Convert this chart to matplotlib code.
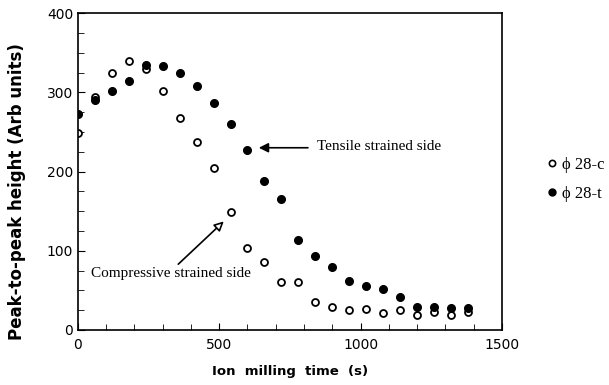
import matplotlib
matplotlib.use("Agg")
import matplotlib.pyplot as plt
from matplotlib.ticker import MultipleLocator
from matplotlib.lines import Line2D

# ion milling time (s)
times = [0, 60, 120, 180, 240, 300, 360, 420, 480, 540, 600, 660,
         720, 780, 840, 900, 960, 1020, 1080, 1140, 1200, 1260, 1320, 1380]
# phi 28-c, compressive strained side (open circles)
comp = [249, 294, 324, 339, 329, 302, 268, 237, 204, 149, 103, 86,
        61, 61, 35, 29, 25, 27, 21, 25, 19, 23, 19, 23]
# phi 28-t, tensile strained side (filled circles)
tens = [273, 290, 302, 314, 335, 333, 325, 308, 286, 260, 227, 188,
        165, 113, 93, 80, 62, 55, 52, 41, 29, 29, 28, 28]
legend_labels = ["\u03d5 28-c", "\u03d5 28-t"]

fig = plt.figure(figsize=(6.09, 3.85), dpi=100)
ax = fig.add_axes([0.128, 0.143, 0.696, 0.823])

ax.plot(times, comp, linestyle="none", marker="o", markersize=5,
        markerfacecolor="white", markeredgecolor="black", markeredgewidth=1.3)
ax.plot(times, tens, linestyle="none", marker="o", markersize=5.5,
        markerfacecolor="black", markeredgecolor="black")

ax.set_xlim(0, 1500)
ax.set_ylim(0, 400)
ax.xaxis.set_major_locator(MultipleLocator(500))
ax.xaxis.set_minor_locator(MultipleLocator(100))
ax.yaxis.set_major_locator(MultipleLocator(100))
ax.yaxis.set_minor_locator(MultipleLocator(25))
ax.tick_params(which="both", direction="in", top=False, right=False)
ax.tick_params(which="major", length=5, labelsize=10)
ax.tick_params(axis="x", which="major", pad=6)
ax.tick_params(which="minor", length=4)
for s in ax.spines.values():
    s.set_linewidth(1.2)

ax.set_xlabel("Ion  milling  time  (s)", fontsize=9.5, fontweight="bold")
ax.xaxis.set_label_coords(0.5, -0.112)
ax.set_ylabel("Peak-to-peak height (Arb units)", fontsize=12, fontweight="bold",
              va="center")
ax.yaxis.set_label_coords(-0.143, 0.438)

serif = "Liberation Serif"
ax.text(845, 232, "Tensile strained side", fontsize=11, family=serif, va="center")
ax.annotate("", xy=(640, 230), xytext=(814, 230),
            arrowprops=dict(arrowstyle="-|>", color="black", lw=1.2,
                            mutation_scale=14, shrinkA=0, shrinkB=0))
ax.text(45, 71, "Compressive strained side", fontsize=11, family=serif, va="center")
ax.annotate("", xy=(516, 137), xytext=(355, 83),
            arrowprops=dict(arrowstyle="-|>", facecolor="white", edgecolor="black",
                            lw=1.2, mutation_scale=14, shrinkA=0, shrinkB=0))

handles = [
    Line2D([], [], linestyle="none", marker="o", markersize=4.5,
           markerfacecolor="white", markeredgecolor="black", markeredgewidth=1.2),
    Line2D([], [], linestyle="none", marker="o", markersize=5,
           markerfacecolor="black", markeredgecolor="black"),
]
fig.legend(handles, legend_labels, loc="upper left", bbox_to_anchor=(0.879, 0.622),
           frameon=False, handlelength=0.6, handletextpad=0.3, labelspacing=0.75,
           borderpad=0.2, prop={"family": serif, "size": 12})

fig.savefig("out.png", dpi=100)
